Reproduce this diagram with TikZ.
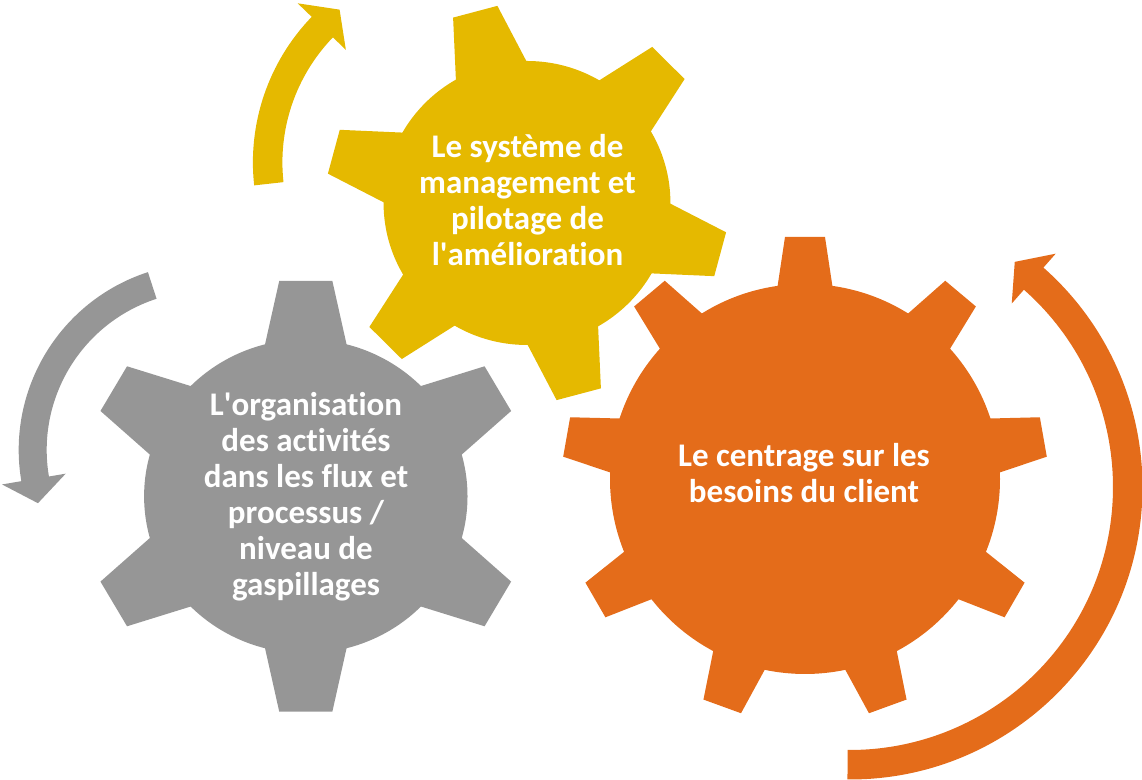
\documentclass[tikz,border=0pt]{standalone}
\usepackage{fontspec}
\setmainfont{Carlito}[Ligatures={NoCommon}]
\definecolor{gyellow}{RGB}{229,185,0}
\definecolor{gorange}{RGB}{228,108,26}
\definecolor{ggray}{RGB}{150,150,150}
\begin{document}
\begin{tikzpicture}[x=0.5pt,y=0.5pt,
  gearlabel/.style={text=white, font=\bfseries\fontsize{16.5}{18}\selectfont, align=center}]
\useasboundingbox (0,0) rectangle (1142,780);

% ---------- yellow gear ----------
\begin{scope}[shift={(527,577)}, xscale=1.01]
  \fill[gyellow] (0,0) circle[radius=142];
  \foreach \a in {105,45,-15,-75,-135,165}
    \fill[gyellow, rotate=\a] (135,-36.6) -- (198,-22.7) -- (198,22.7) -- (135,36.6) -- cycle;
\end{scope}

% ---------- gray gear ----------
\begin{scope}[shift={(305.8,283.7)}, xscale=1.03]
  \fill[ggray] (0,0) circle[radius=157];
  \foreach \a in {90,30,-30,-90,-150,150}
    \fill[ggray, rotate=\a] (150,-40) -- (215.3,-25.8) -- (215.3,25.8) -- (150,40) -- cycle;
\end{scope}

% ---------- orange gear ----------
\begin{scope}[shift={(805,301)}]
  \fill[gorange] (0,0) circle[radius=195];
  \foreach \a in {90,50,10,-30,-70,-110,-150,170,130}
    \fill[gorange, rotate=\a] (191,-27.7) -- (242,-20) -- (242,20) -- (191,27.7) -- cycle;
\end{scope}

% ---------- circular arrows ----------
\begin{scope}[shift={(462.4,617.6)}]
  \fill[gyellow] (186.3:209.5) arc[start angle=186.3, end angle=136, radius=209.5]
    -- (136:229) -- (128.8:196) -- (136:162) -- (136:180)
    arc[start angle=136, end angle=186.3, radius=180] -- cycle;
\end{scope}
\begin{scope}[shift={(205.7,330)}]
  \fill[ggray] (108:187) arc[start angle=108, end angle=189.6, radius=187]
    -- (189.6:206.6) -- (197.6:176) -- (189.6:142) -- (189.6:159)
    arc[start angle=189.6, end angle=108, radius=159] -- cycle;
\end{scope}
\begin{scope}[shift={(850,293)}]
  \fill[gorange] (-90.5:292.5) arc[start angle=-90.5, end angle=48.6, radius=292.5]
    -- (48.6:311) -- (53.8:279) -- (48.6:244.6) -- (48.6:263)
    arc[start angle=48.6, end angle=-90.5, radius=263] -- cycle;
\end{scope}

% ---------- labels ----------
\node[gearlabel] (tY) at (527.5,580) {Le système de\\management et\\pilotage de\\l\textquotesingle amélioration};
\node[gearlabel] (tG) at (306,283) {L\textquotesingle organisation\\des activités\\dans les flux et\\processus /\\niveau de\\gaspillages};
\node[gearlabel] (tO) at (804,306.5) {Le centrage sur les\\besoins du client};
\end{tikzpicture}
\end{document}
